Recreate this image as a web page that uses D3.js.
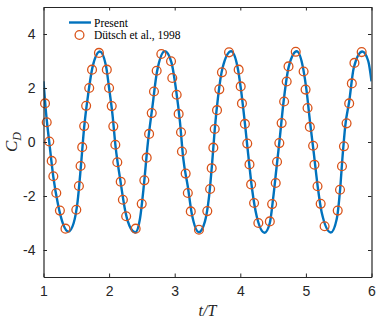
<!DOCTYPE html>
<html>
<head>
<meta charset="utf-8">
<script src="https://cdn.jsdelivr.net/npm/d3@7"></script>
<style>
  body { margin: 0; background: #fff; }
  svg { display: block; }
</style>
</head>
<body>
<div id="chart"></div>
<script>
// present simulation (line)
const presentT = [1.00, 1.04, 1.09, 1.15, 1.22, 1.30, 1.38, 1.46, 1.52, 1.57, 1.62, 1.68, 1.75, 1.86,
  1.95, 2.00, 2.05, 2.10, 2.17, 2.25, 2.33, 2.40, 2.47, 2.53, 2.59, 2.66, 2.73, 2.85,
  2.95, 3.02, 3.08, 3.13, 3.20, 3.26, 3.37, 3.46, 3.52, 3.57, 3.61, 3.66, 3.73, 3.86,
  3.96, 4.01, 4.07, 4.12, 4.18, 4.25, 4.37, 4.45, 4.50, 4.55, 4.60, 4.66, 4.74, 4.86,
  4.96, 5.01, 5.06, 5.12, 5.18, 5.24, 5.38, 5.47, 5.52, 5.56, 5.60, 5.66, 5.73, 5.86,
  5.95, 6.00];
const presentCD = [2.25, 1.05, -0.05, -1.3, -2.3, -3.05, -3.32, -3.0, -2.2, -0.9, 0.55, 1.75, 2.8, 3.35,
  2.85, 2.0, 1.05, -0.2, -1.4, -2.6, -3.2, -3.35, -2.85, -1.6, -0.05, 1.3, 2.6, 3.36,
  2.95, 1.95, 0.75, -0.6, -1.65, -2.65, -3.34, -2.95, -2.1, -0.8, 0.45, 1.65, 2.75, 3.36,
  2.75, 1.95, 0.7, -0.45, -1.75, -2.75, -3.36, -3.0, -2.1, -1.0, 0.1, 1.5, 2.8, 3.36,
  2.7, 1.9, 0.8, -0.4, -1.65, -2.6, -3.35, -2.85, -1.8, -0.5, 0.6, 1.5, 2.75, 3.35,
  3.0, 2.25];

// Dütsch et al., 1998 (circles)
const dutschT = [1.023, 1.049, 1.088, 1.125, 1.15, 1.195, 1.25, 1.335, 1.50, 1.54, 1.565, 1.59, 1.62, 1.65,
  1.697, 1.74, 1.845, 1.965, 2.0, 2.04, 2.064, 2.095, 2.125, 2.177, 2.21, 2.26, 2.405, 2.497,
  2.537, 2.573, 2.61, 2.65, 2.684, 2.725, 2.796, 2.944, 2.963, 3.03, 3.06, 3.096, 3.11, 3.167,
  3.20, 3.245, 3.37, 3.497, 3.54, 3.564, 3.589, 3.61, 3.645, 3.68, 3.72, 3.828, 3.975, 4.006,
  4.025, 4.07, 4.106, 4.14, 4.165, 4.21, 4.275, 4.45, 4.485, 4.54, 4.56, 4.595, 4.63, 4.668,
  4.707, 4.735, 4.845, 4.965, 4.995, 5.025, 5.06, 5.11, 5.13, 5.177, 5.225, 5.285, 5.485, 5.52,
  5.55, 5.58, 5.62, 5.66, 5.70, 5.74, 5.85];
const dutschCD = [1.43, 0.73, 0.02, -0.70, -1.27, -1.89, -2.54, -3.21, -2.51, -1.63, -0.89, -0.19, 0.59, 1.34,
  2.0, 2.68, 3.30, 2.68, 2.0, 1.33, 0.58, -0.10, -0.75, -1.47, -2.14, -2.75, -3.21, -2.29,
  -1.42, -0.58, 0.30, 1.07, 1.87, 2.64, 3.26, 2.99, 2.37, 1.75, 1.04, 0.36, -0.35, -1.17,
  -1.89, -2.57, -3.25, -2.56, -1.74, -0.97, -0.21, 0.48, 1.18, 1.95, 2.58, 3.32, 2.68, 2.06,
  1.43, 0.67, -0.06, -0.83, -1.57, -2.26, -3.0, -2.94, -2.30, -1.52, -0.73, -0.04, 0.70, 1.50,
  2.24, 2.80, 3.34, 2.61, 1.94, 1.26, 0.56, -0.14, -0.84, -1.64, -2.29, -3.12, -2.54, -1.77,
  -0.90, -0.16, 0.69, 1.43, 2.17, 2.93, 3.33];

const xTicks = [1, 2, 3, 4, 5, 6];
const yTicks = [-4, -2, 0, 2, 4];

var width = 381, height = 322;
var margin = { left: 43.5, right: 9.5, top: 7, bottom: 45 };

var blue = '#0072BD', orange = '#D95319', axisColor = '#262626';

var svg = d3.select('#chart').append('svg')
  .attr('width', width)
  .attr('height', height);

var xScale = d3.scaleLinear().domain([1, 6]).range([margin.left, width - margin.right]);
var yScale = d3.scaleLinear().domain([-5, 5]).range([height - margin.bottom, margin.top]);

svg.append('clipPath').attr('id', 'clip')
  .append('rect')
  .attr('x', margin.left).attr('y', margin.top)
  .attr('width', xScale(6) - xScale(1))
  .attr('height', yScale(-5) - yScale(5));

var line = d3.line()
  .x(d => xScale(d[0]))
  .y(d => yScale(d[1]))
  .curve(d3.curveMonotoneX);

svg.append('path')
  .datum(presentT.map((t, i) => [t, presentCD[i]]))
  .attr('clip-path', 'url(#clip)')
  .attr('fill', 'none')
  .attr('stroke', blue)
  .attr('stroke-width', 2.4)
  .attr('d', line);

svg.append('g')
  .selectAll('circle')
  .data(dutschT.map((t, i) => [t, dutschCD[i]]))
  .join('circle')
  .attr('cx', d => xScale(d[0]))
  .attr('cy', d => yScale(d[1]))
  .attr('r', 4.4)
  .attr('fill', 'none')
  .attr('stroke', orange)
  .attr('stroke-width', 1.3);

// axes: ticks inside, box on all sides
function styleAxis(g) {
  g.select('.domain').attr('stroke', axisColor).attr('stroke-width', 1.2);
  g.selectAll('.tick line').attr('stroke', axisColor).attr('stroke-width', 1);
  g.selectAll('.tick text')
    .attr('fill', axisColor)
    .style('font-family', 'Liberation Sans, Arial, sans-serif')
    .style('font-size', '14px');
}

svg.append('g')
  .attr('transform', `translate(0, ${yScale(-5)})`)
  .call(d3.axisBottom(xScale).tickValues(xTicks).tickSizeInner(-3.5).tickSizeOuter(0).tickPadding(9)
    .tickFormat(d3.format('d')))
  .call(styleAxis);

svg.append('g')
  .attr('transform', `translate(0, ${yScale(5)})`)
  .call(d3.axisTop(xScale).tickValues(xTicks).tickSizeInner(-3.5).tickSizeOuter(0).tickFormat(''))
  .call(styleAxis);

svg.append('g')
  .attr('transform', `translate(${xScale(1)}, 0)`)
  .call(d3.axisLeft(yScale).tickValues(yTicks).tickSizeInner(-3.5).tickSizeOuter(0).tickPadding(8)
    .tickFormat(d => d < 0 ? '-' + Math.abs(d) : d))
  .call(styleAxis);

svg.append('g')
  .attr('transform', `translate(${xScale(6)}, 0)`)
  .call(d3.axisRight(yScale).tickValues(yTicks).tickSizeInner(-3.5).tickSizeOuter(0).tickFormat(''))
  .call(styleAxis);

// axis labels
svg.append('text')
  .attr('x', (xScale(1) + xScale(6)) / 2)
  .attr('y', 316)
  .attr('text-anchor', 'middle')
  .style('font-family', 'Liberation Serif, Times New Roman, serif')
  .style('font-style', 'italic')
  .style('font-size', '16px')
  .attr('fill', axisColor)
  .text('t/T');

var yLabel = svg.append('text')
  .attr('transform', `translate(17, ${yScale(0)}) rotate(-90)`)
  .attr('text-anchor', 'middle')
  .style('font-family', 'Liberation Serif, Times New Roman, serif')
  .style('font-style', 'italic')
  .style('font-size', '17px')
  .attr('fill', axisColor);
yLabel.append('tspan').text('C');
yLabel.append('tspan').attr('dy', 4).style('font-size', '12px').text('D');

// legend
var legend = svg.append('g').style('font-family', 'Liberation Serif, Times New Roman, serif')
  .style('font-size', '11.5px');
legend.append('line')
  .attr('x1', 69).attr('x2', 91).attr('y1', 22.5).attr('y2', 22.5)
  .attr('stroke', blue).attr('stroke-width', 2.4);
legend.append('text').attr('x', 94).attr('y', 26.5).attr('fill', '#000').text('Present');
legend.append('circle')
  .attr('cx', 79.5).attr('cy', 35).attr('r', 4.4)
  .attr('fill', 'none').attr('stroke', orange).attr('stroke-width', 1.3);
legend.append('text').attr('x', 94).attr('y', 39).attr('fill', '#000').text('Dütsch et al., 1998');
</script>
</body>
</html>
